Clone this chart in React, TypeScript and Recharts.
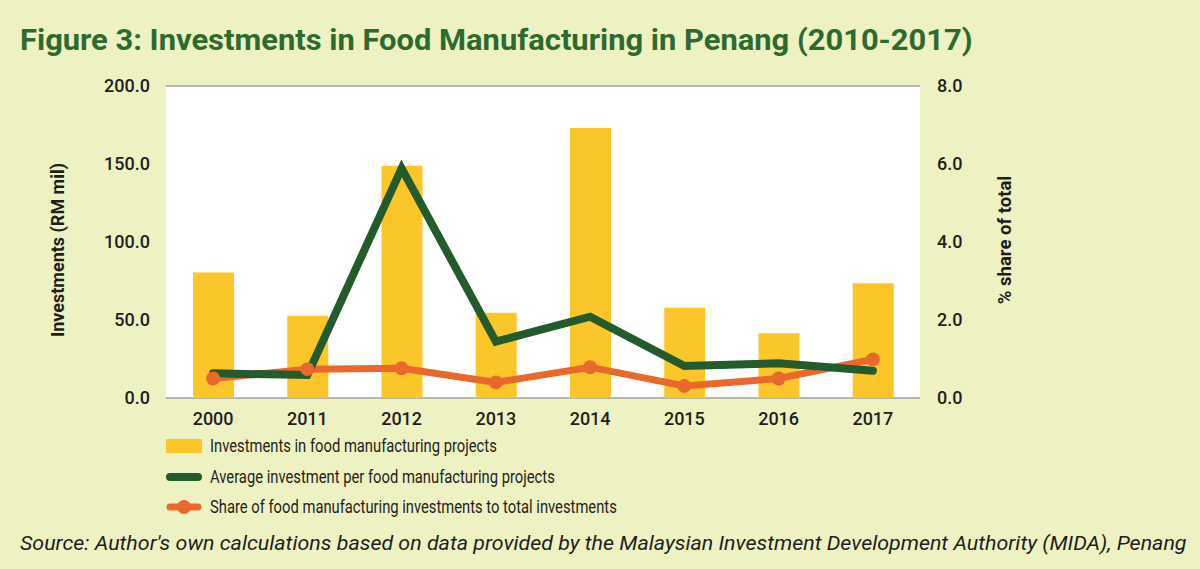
import React from "react";
import { ComposedChart, Bar, Line, XAxis, YAxis, CartesianGrid } from "recharts";

const BG = "#eef2c2";
const YELLOW = "#fbc62a";
const GREEN = "#245b2c";
const ORANGE = "#e9692d";
const TEXT = "#1e1e1e";

const years = ["2000", "2011", "2012", "2013", "2014", "2015", "2016", "2017"];
// RM mil, left axis
const investments = [80.5, 52.8, 148.9, 54.7, 173.0, 57.9, 41.5, 73.5];
const avgPerProject = [15.8, 14.7, 147.2, 36.1, 52.1, 20.5, 22.2, 17.5];
// % share, right axis
const shareOfTotal = [0.5, 0.74, 0.76, 0.4, 0.79, 0.31, 0.5, 0.99];

const leftTicks = [0, 50, 100, 150, 200];
const rightTicks = [0, 2, 4, 6, 8];

const data = years.map((year, i) => ({
  year,
  investments: investments[i],
  avg: avgPerProject[i],
  share: shareOfTotal[i],
}));

const FONT = "Roboto, 'Open Sans', sans-serif";
const tickStyle = { fill: TEXT, fontSize: 18, fontWeight: 500, fontFamily: FONT };

function Narrow({ children, scale, style }: any) {
  return (
    <div
      style={{
        display: "inline-block",
        whiteSpace: "nowrap",
        transform: `scaleX(${scale})`,
        transformOrigin: "left center",
        ...style,
      }}
    >
      {children}
    </div>
  );
}

export default function App() {
  return (
    <div
      style={{
        position: "absolute",
        left: 0,
        top: 0,
        width: 1200,
        height: 569,
        background: BG,
        fontFamily: FONT,
        color: TEXT,
        overflow: "hidden",
      }}
    >
      <div style={{ position: "absolute", left: 20, top: 22 }}>
        <Narrow scale={1.03} style={{ fontSize: 30, fontWeight: 700, color: "#2d6a30" }}>
          Figure 3: Investments in Food Manufacturing in Penang (2010-2017)
        </Narrow>
      </div>

      <div style={{ position: "absolute", left: 0, top: 0 }}>
        <ComposedChart
          width={1200}
          height={440}
          data={data}
          margin={{ top: 86, right: 160, bottom: 12, left: 0 }}
        >
          <CartesianGrid vertical={false} fill="#ffffff" stroke="#a39f9f" strokeWidth={1.5} />
          <XAxis
            dataKey="year"
            axisLine={false}
            tickLine={false}
            tick={tickStyle}
            tickMargin={8}
            height={30}
          />
          <YAxis
            yAxisId="left"
            domain={[0, 200]}
            ticks={leftTicks}
            tickFormatter={(v) => v.toFixed(1)}
            axisLine={false}
            tickLine={false}
            tickSize={0}
            tickMargin={16}
            tick={tickStyle}
            width={166}
          />
          <YAxis
            yAxisId="right"
            orientation="right"
            domain={[0, 8]}
            ticks={rightTicks}
            tickFormatter={(v) => v.toFixed(1)}
            axisLine={false}
            tickLine={false}
            tickSize={0}
            tickMargin={17}
            tick={{ ...tickStyle, textAnchor: "start" }}
            width={120}
          />
          <Bar yAxisId="left" dataKey="investments" fill={YELLOW} barSize={41} isAnimationActive={false} />
          <Line
            yAxisId="right"
            dataKey="share"
            stroke={ORANGE}
            strokeWidth={7}
            dot={{ r: 7, fill: ORANGE, stroke: "none" }}
            activeDot={false}
            isAnimationActive={false}
          />
          <Line
            yAxisId="left"
            dataKey="avg"
            stroke={GREEN}
            strokeWidth={8}
            strokeLinecap="round"
            dot={false}
            activeDot={false}
            isAnimationActive={false}
          />
        </ComposedChart>
      </div>

      <div
        style={{
          position: "absolute",
          left: 57,
          top: 250,
          transform: "translate(-50%, -50%) rotate(-90deg)",
          whiteSpace: "nowrap",
          fontSize: 18,
          fontWeight: 700,
        }}
      >
        Investments (RM mil)
      </div>
      <div
        style={{
          position: "absolute",
          left: 1005,
          top: 240,
          transform: "translate(-50%, -50%) rotate(-90deg)",
          whiteSpace: "nowrap",
          fontSize: 18.5,
          fontWeight: 700,
        }}
      >
        % share of total
      </div>

      {/* Legend */}
      <svg style={{ position: "absolute", left: 0, top: 0 }} width={220} height={569}>
        <rect x={166} y={439} width={36} height={14} fill={YELLOW} />
        <line x1={170} y1={477} x2={198} y2={477} stroke={GREEN} strokeWidth={8} strokeLinecap="round" />
        <line x1={170} y1={507} x2={198} y2={507} stroke={ORANGE} strokeWidth={7} strokeLinecap="round" />
        <circle cx={184} cy={507} r={7} fill={ORANGE} />
      </svg>
      {[
        "Investments in food manufacturing projects",
        "Average investment per food manufacturing projects",
        "Share of food manufacturing investments to total investments",
      ].map((t, i) => (
        <div key={t} style={{ position: "absolute", left: 210, top: 446 + i * 30.5 - 12 }}>
          <Narrow scale={0.82} style={{ fontSize: 18, lineHeight: "24px" }}>
            {t}
          </Narrow>
        </div>
      ))}

      <div style={{ position: "absolute", left: 20, top: 529 }}>
        <Narrow scale={1.07} style={{ fontSize: 20, fontStyle: "italic", lineHeight: "28px" }}>
          Source: Author's own calculations based on data provided by the Malaysian Investment Development Authority (MIDA), Penang
        </Narrow>
      </div>
    </div>
  );
}
